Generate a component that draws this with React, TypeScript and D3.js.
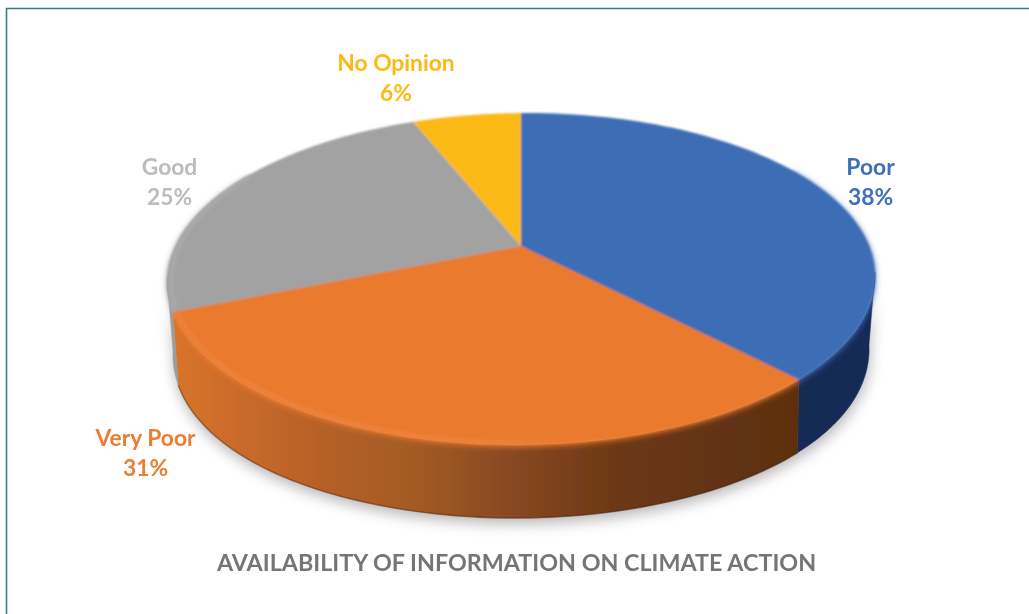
import React from "react";
import * as d3 from "d3";

const categories = ["Poor", "Very Poor", "Good", "No Opinion"];
const percents = [38, 31, 25, 6];
const faceColors = ["#3e6db5", "#ea7a2f", "#a2a2a2", "#fbb914"];
const labelColors = ["#4070b8", "#ed7d31", "#bcbcbc", "#fdb913"];
const wallFills = ["#132c56", "url(#orangeWall)", "#9c9c9c", "#b08a20"];
const rimColors = ["none", "url(#orangeRim)", "#acacac", "none"];
const chartTitle = "AVAILABILITY OF INFORMATION ON CLIMATE ACTION";

const W = 1029, H = 614;
const apexX = 521, apexY = 246;
const persp = -0.199, radX = 347, radY = 159.4, tilt = 0.008;
const project = (t: number, r = 1): [number, number] => {
  const u = Math.sin(t) * r, v = -Math.cos(t) * r, d = 1 + persp * v;
  const dx = (radX * u) / d;
  return [apexX + dx, apexY + (radY * v) / d - tilt * dx];
};
const lower = ([x, y]: [number, number]): [number, number] => {
  const dx = x - apexX;
  return [x - Math.sign(dx) * 6 * Math.pow(Math.abs(dx) / 354, 6), y + 73];
};
const samples = (a: number, b: number) =>
  d3.range(0, 81).map((i) => d3.interpolateNumber(a, b)(i / 80));
const lineGen = d3.line<[number, number]>();
const pieGen = d3.pie<number>().sort(null).value((d) => d).startAngle(0).endAngle(2 * Math.PI);
const arcs = pieGen(percents);
const rad = (deg: number) => (deg * Math.PI) / 180;
const wallFrom = rad(100), wallTo = rad(260);

const facePath = (a: number, b: number) =>
  lineGen([[apexX, apexY], ...samples(a, b).map((t) => project(t))])! + "Z";
const wallPath = (a: number, b: number) => {
  const s = samples(a, b);
  return lineGen([...s.map((t) => project(t)), ...s.slice().reverse().map((t) => lower(project(t)))])! + "Z";
};
const rimPath = (a: number, b: number, r: number) => lineGen(samples(a, b).map((t) => project(t, r)))!;
const bottomPath = (a: number, b: number) => lineGen(samples(a, b).map((t) => lower(project(t))))!;
const silhouette = wallPath(wallFrom, wallTo);

const labels = [
  { x: 870.5, y: 175 },
  { x: 145.5, y: 446 },
  { x: 169.5, y: 175 },
  { x: 396, y: 71 },
];
const font = "Lato, 'Open Sans', sans-serif";

export default function App() {
  return (
    <svg width={W} height={H} viewBox={`0 0 ${W} ${H}`}
      style={{ position: "absolute", left: 0, top: 0, display: "block", background: "#fff" }}>
      <defs>
        <linearGradient id="orangeWall" gradientUnits="userSpaceOnUse" x1={176} x2={800} y1={0} y2={0}>
          <stop offset="0" stopColor="#d8732c" />
          <stop offset="0.25" stopColor="#b45f27" />
          <stop offset="0.39" stopColor="#a25a24" />
          <stop offset="0.55" stopColor="#864720" />
          <stop offset="0.71" stopColor="#6b3816" />
          <stop offset="1" stopColor="#5c2f10" />
        </linearGradient>
        <linearGradient id="orangeRim" gradientUnits="userSpaceOnUse" x1={180} x2={580} y1={0} y2={0}>
          <stop offset="0" stopColor="#f28c4a" stopOpacity={0.6} />
          <stop offset="0.7" stopColor="#f28c4a" stopOpacity={0.6} />
          <stop offset="1" stopColor="#f28c4a" stopOpacity={0} />
        </linearGradient>
        <filter id="shadow" x="-10%" y="-10%" width="120%" height="130%"><feGaussianBlur stdDeviation="7" /></filter>
        <filter id="soft" x="-5%" y="-5%" width="110%" height="110%"><feGaussianBlur stdDeviation="0.9" /></filter>
        <filter id="softer" x="-5%" y="-5%" width="110%" height="110%"><feGaussianBlur stdDeviation="3.2" /></filter>
        <filter id="rimSoft" x="-5%" y="-5%" width="110%" height="110%"><feGaussianBlur stdDeviation="1.5" /></filter>
        <filter id="wallSoft" x="-5%" y="-5%" width="110%" height="110%"><feGaussianBlur stdDeviation="0.7" /></filter>
        <filter id="textSoft" x="-5%" y="-20%" width="110%" height="140%"><feGaussianBlur stdDeviation="0.45" /></filter>
      </defs>
      <path d={`M${W},8.5H6.5V${H}`} fill="none" stroke="#3d7c7a" strokeWidth={1.6} />

      <path d={silhouette} transform="translate(1,6)" fill="#8c8c8c" opacity={0.62} filter="url(#shadow)" />

      <g filter="url(#wallSoft)">
        {arcs.map((a, i) => {
          const from = Math.max(a.startAngle, wallFrom), to = Math.min(a.endAngle, wallTo);
          return to > from ? <path key={categories[i]} d={wallPath(from, to)} fill={wallFills[i]} stroke={wallFills[i]} strokeWidth={0.5} /> : null;
        })}
        <path d={bottomPath(arcs[1].startAngle, arcs[1].endAngle)} fill="none" stroke="#3e1e08" strokeWidth={1.6} opacity={0.4} />
      </g>

      <g filter="url(#softer)" transform="translate(0,1.5)">
        {arcs.map((a, i) => {
          const from = Math.max(a.startAngle, rad(60)), to = Math.min(a.endAngle, rad(300));
          return to > from ? <path key={i} d={facePath(from, to)} fill={faceColors[i]} /> : null;
        })}
      </g>
      <g filter="url(#soft)">
        {arcs.map((a, i) => <path key={i} d={facePath(a.startAngle, a.endAngle)} fill={faceColors[i]} />)}
      </g>
      <g filter="url(#rimSoft)">
        {arcs.map((a, i) => {
          const from = Math.max(a.startAngle, rad(60)) + 0.02, to = Math.min(a.endAngle, rad(300));
          return to > from && rimColors[i] !== "none" ? (
            <path key={i} d={rimPath(from, to, 0.988)} fill="none" strokeWidth={3} stroke={rimColors[i]} />
          ) : null;
        })}
      </g>

      <g filter="url(#textSoft)" fontFamily={font} fontWeight={700} textAnchor="middle">
        {categories.map((c, i) => (
          <text key={c} x={labels[i].x} y={labels[i].y} fill={labelColors[i]} fontSize={22.8}>
            <tspan x={labels[i].x}>{c}</tspan>
            <tspan x={labels[i].x} dy={30}>{percents[i]}%</tspan>
          </text>
        ))}
        <text x={516.5} y={571} fontSize={23.3} fill="#757575">{chartTitle}</text>
      </g>
    </svg>
  );
}
